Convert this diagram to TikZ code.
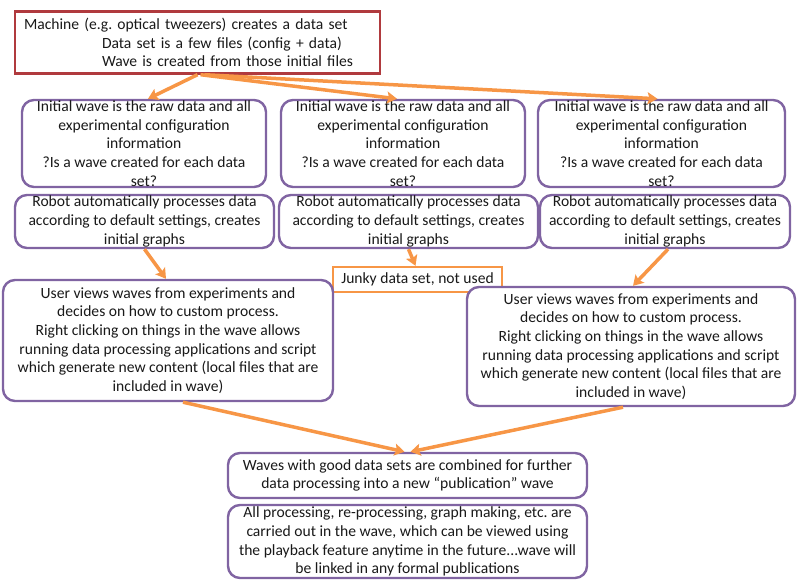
\documentclass[tikz,border=0pt]{standalone}
\usepackage{fontspec}
\setmainfont{Carlito}
\usetikzlibrary{arrows.meta, positioning}
\definecolor{boxpurple}{RGB}{128,100,162}
\definecolor{boxred}{RGB}{176,58,62}
\definecolor{flowor}{RGB}{247,150,70}
\frenchspacing

\begin{document}
\begin{tikzpicture}[x=1pt, y=-1pt,
    box/.style={draw=boxpurple, line width=2.4pt, rounded corners=12pt, align=center, inner sep=0pt, fill=white},
    flow/.style={draw=flowor, line width=3.5pt, -{Stealth[length=10pt, width=12pt, inset=2pt]}},
    every node/.style={font=\fontsize{15.6}{18.7}\selectfont, text=black!90}]
  \useasboundingbox (0,0) rectangle (800,581);

  % Machine
  \node[draw=boxred, line width=2.4pt, align=left, text width=347pt, inner xsep=9pt, minimum height=62pt] (src) at (197.5,42.5)
    {Machine (e.g. optical tweezers) creates a data set\\
     \hspace*{78pt}Data set is a few files (config + data)\\
     \hspace*{78pt}Wave is created from those initial files};

  % Initial waves
  \node[box, minimum width=244pt, minimum height=87pt] (init1) at (144,143.5)
    {Initial wave is the raw data and all\\experimental configuration\\information\\?Is a wave created for each data\\set?};
  \node[box, minimum width=244pt, minimum height=87pt] (init2) at (403,143.5)
    {Initial wave is the raw data and all\\experimental configuration\\information\\?Is a wave created for each data\\set?};
  \node[box, minimum width=247pt, minimum height=87pt] (init3) at (661.5,143.5)
    {Initial wave is the raw data and all\\experimental configuration\\information\\?Is a wave created for each data\\set?};

  % Robot
  \node[box, minimum width=259pt, minimum height=53pt] (robot1) at (144.5,221.5)
    {Robot automatically processes data\\according to default settings, creates\\initial graphs};
  \node[box, minimum width=259pt, minimum height=53pt] (robot2) at (408.5,221.5)
    {Robot automatically processes data\\according to default settings, creates\\initial graphs};
  \node[box, minimum width=250pt, minimum height=53pt] (robot3) at (665,221.5)
    {Robot automatically processes data\\according to default settings, creates\\initial graphs};

  % Junk
  \node[draw=flowor, line width=2.4pt, fill=white, minimum width=169pt, minimum height=25pt, inner sep=0pt] (junk) at (417.5,279.5)
    {Junky data set, not used};

  % User
  \node[box, minimum width=330pt, minimum height=121pt] (user1) at (168,340.5)
    {User views waves from experiments and\\decides on how to custom process.\\Right clicking on things in the wave allows\\running data processing applications and script\\which generate new content (local files that are\\included in wave)};
  \node[box, minimum width=328pt, minimum height=119pt] (user2) at (631,346.5)
    {User views waves from experiments and\\decides on how to custom process.\\Right clicking on things in the wave allows\\running data processing applications and script\\which generate new content (local files that are\\included in wave)};

  % Publication
  \node[box, minimum width=359pt, minimum height=45pt] (pub) at (407.5,475.5)
    {Waves with good data sets are combined for further\\data processing into a new \textquotedblleft publication\textquotedblright{} wave};
  \node[box, minimum width=359pt, minimum height=73pt] (final) at (407.5,541.5)
    {All processing, re-processing, graph making, etc. are\\carried out in the wave, which can be viewed using\\the playback feature anytime in the future...wave will\\be linked in any formal publications};

  % arrows
  \draw[flow] (src.south) -- ([xshift=4pt]init1.north);
  \draw[flow] ([xshift=3pt]src.south) -- ([xshift=-6pt]init2.north);
  \draw[flow] ([xshift=7pt]src.south) -- ([xshift=-4pt]init3.north);
  \draw[flow] (robot1.south) -- ([xshift=-2pt]user1.north);
  \draw[flow] (robot2.south) -- ([xshift=-2pt]junk.north);
  \draw[flow] ([xshift=3pt]robot3.south) -- ([xshift=2pt]user2.north);
  \draw[flow] ([xshift=15pt]user1.south) -- ([xshift=-3pt]pub.north);
  \draw[flow] ([xshift=-8pt]user2.south) -- ([xshift=3pt]pub.north);

\end{tikzpicture}
\end{document}
